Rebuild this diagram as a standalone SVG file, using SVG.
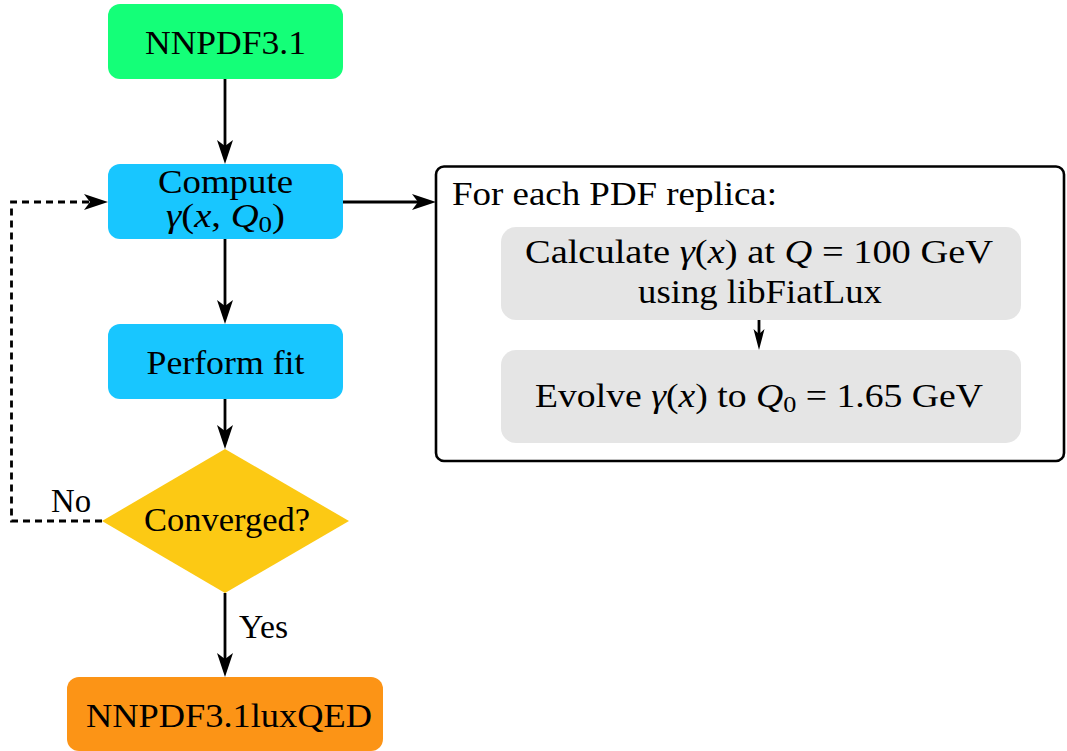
<svg xmlns="http://www.w3.org/2000/svg" width="1067" height="751" viewBox="0 0 1067 751" font-family="'Liberation Serif', 'DejaVu Serif', serif">
  <defs>
    <marker id="stealth" markerUnits="userSpaceOnUse" viewBox="-30 -10 34 20" markerWidth="34" markerHeight="20" refX="-10" refY="0" orient="auto" overflow="visible">
      <path d="M0,0 L-24,-8 L-18,0 L-24,8 Z" fill="#000"/>
    </marker>
    <marker id="stealthSmall" markerUnits="userSpaceOnUse" viewBox="-26 -10 30 20" markerWidth="30" markerHeight="20" refX="-8" refY="0" orient="auto" overflow="visible">
      <path d="M0,0 L-21,-5.5 L-16,0 L-21,5.5 Z" fill="#000"/>
    </marker>
  </defs>
  <style>
    text { font-family: "Liberation Serif", "DejaVu Serif", serif; font-size: 33px; fill: #000; }
    .c { text-anchor: middle; }
    .i { font-style: italic; }
    .sub { font-size: 23px; }
    .conn { fill: none; stroke: #000; stroke-width: 2.8; }
    .dash { stroke-dasharray: 7 5; }
  </style>
  <rect width="1067" height="751" fill="#fff"/>

  <g id="nnpdf31">
    <rect x="108" y="4" width="235" height="75" rx="12" fill="#14FF78"/>
    <text x="225.5" y="54" class="c" font-family="Liberation Serif, serif" textLength="161" lengthAdjust="spacingAndGlyphs">NNPDF3.1</text>
  </g>

  <g id="compute">
    <rect x="108" y="164" width="235" height="75" rx="12" fill="#18C6FF"/>
    <text x="225.5" y="193" class="c" font-family="Liberation Serif, serif" textLength="135" lengthAdjust="spacingAndGlyphs">Compute</text>
    <text x="225.5" y="227" class="c" font-family="Liberation Serif, serif" textLength="119" lengthAdjust="spacingAndGlyphs"><tspan class="i">γ</tspan>(<tspan class="i">x</tspan>, <tspan class="i">Q</tspan><tspan class="sub" dy="5">0</tspan><tspan dy="-5">)</tspan></text>
  </g>

  <g id="perform-fit">
    <rect x="108" y="324" width="235" height="75" rx="12" fill="#18C6FF"/>
    <text x="225.5" y="374" class="c" font-family="Liberation Serif, serif" textLength="158" lengthAdjust="spacingAndGlyphs">Perform fit</text>
  </g>

  <g id="converged">
    <polygon points="225,449 349,521 225,593 102,521" fill="#FCC914"/>
    <text x="227" y="531" class="c" font-family="Liberation Serif, serif" textLength="166" lengthAdjust="spacingAndGlyphs">Converged?</text>
  </g>

  <g id="luxqed">
    <rect x="67" y="677" width="316" height="74" rx="12" fill="#FC9416"/>
    <text x="229" y="727" class="c" font-family="Liberation Serif, serif" textLength="286" lengthAdjust="spacingAndGlyphs">NNPDF3.1luxQED</text>
  </g>

  <g id="replica-box">
    <rect x="436" y="166.5" width="628" height="294.5" rx="8" fill="#fff" stroke="#000" stroke-width="2.6"/>
    <text x="452" y="205" font-family="Liberation Serif, serif" textLength="325" lengthAdjust="spacingAndGlyphs">For each PDF replica:</text>
  </g>

  <g id="calculate">
    <rect x="501" y="227" width="520" height="93" rx="15" fill="#E5E5E5"/>
    <text x="759" y="262.5" class="c" font-family="Liberation Serif, serif" textLength="468" lengthAdjust="spacingAndGlyphs">Calculate <tspan class="i">γ</tspan>(<tspan class="i">x</tspan>) at <tspan class="i">Q</tspan> = 100 GeV</text>
    <text x="760" y="303" class="c" font-family="Liberation Serif, serif" textLength="244" lengthAdjust="spacingAndGlyphs">using libFiatLux</text>
  </g>

  <g id="evolve">
    <rect x="501" y="350" width="520" height="93" rx="15" fill="#E5E5E5"/>
    <text x="759" y="407" class="c" font-family="Liberation Serif, serif" textLength="448" lengthAdjust="spacingAndGlyphs">Evolve <tspan class="i">γ</tspan>(<tspan class="i">x</tspan>) to <tspan class="i">Q</tspan><tspan class="sub" dy="5">0</tspan><tspan dy="-5"> = 1.65 GeV</tspan></text>
  </g>

  <g id="connectors">
    <path class="conn" d="M225,79 V154" marker-end="url(#stealth)"/>
    <path class="conn" d="M225,239 V314" marker-end="url(#stealth)"/>
    <path class="conn" d="M225,399 V439" marker-end="url(#stealth)"/>
    <path class="conn" d="M225,593 V667" marker-end="url(#stealth)"/>
    <path class="conn" d="M343,202 H426" marker-end="url(#stealth)"/>
    <path class="conn dash" d="M102,521 H11.5 V202 H98" marker-end="url(#stealth)"/>
    <path class="conn" d="M759,320 V342" marker-end="url(#stealthSmall)"/>
    <text x="71" y="512" class="c" font-family="Liberation Serif, serif" textLength="40" lengthAdjust="spacingAndGlyphs">No</text>
    <text x="263.5" y="638" class="c" font-family="Liberation Serif, serif" textLength="49" lengthAdjust="spacingAndGlyphs">Yes</text>
  </g>
</svg>
